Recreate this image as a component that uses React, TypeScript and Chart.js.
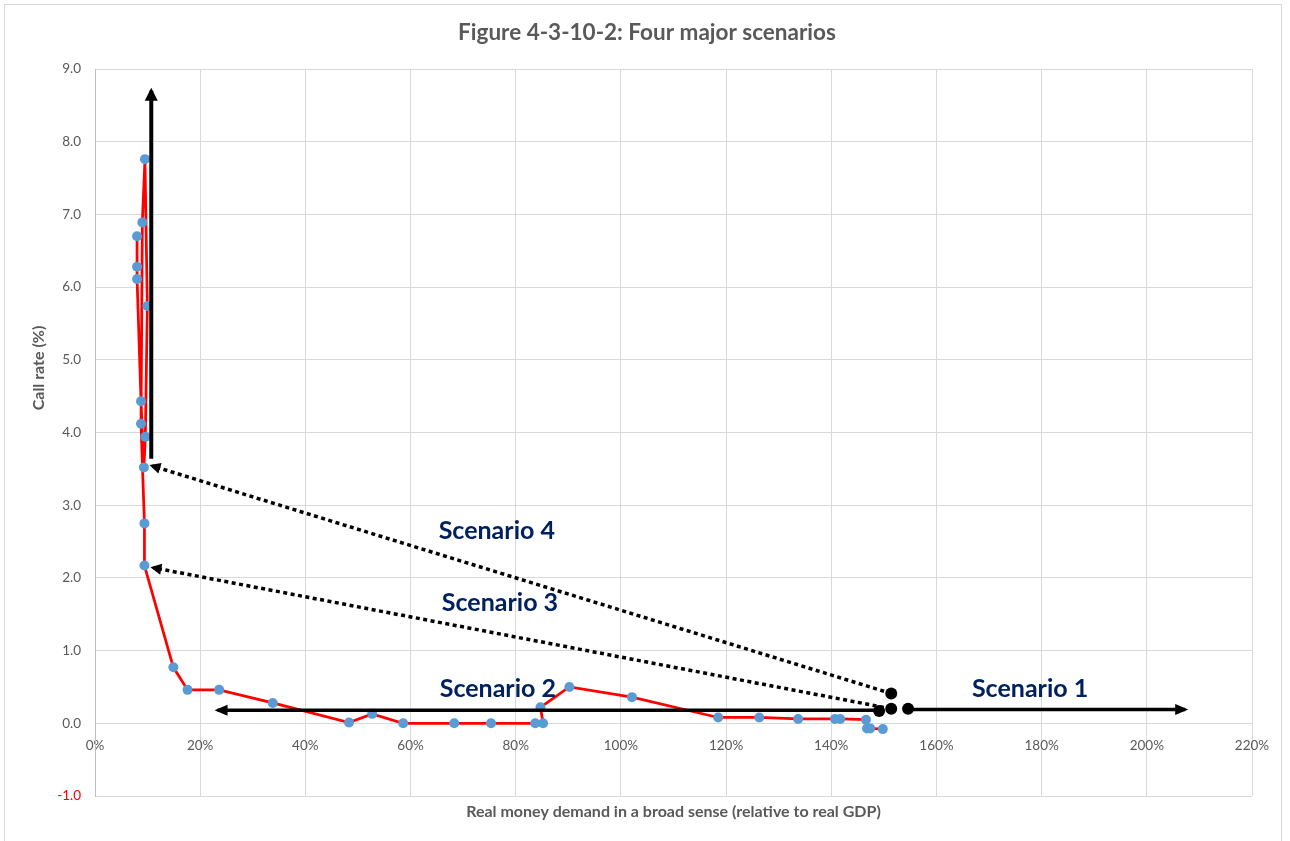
import React, { useEffect, useRef } from "react";
import { Chart, registerables } from "chart.js";

Chart.register(...registerables);

const FONT = "Lato, 'Open Sans', sans-serif";

const chartTitle = "Figure 4-3-10-2: Four major scenarios";
const xAxisTitle = "Real money demand in a broad sense (relative to real GDP)";
const yAxisTitle = "Call rate (%)";

// Observed path (x: % of real GDP, y: call rate %)
const moneyDemand = [
  8.0, 8.0, 8.0, 8.75, 9.3, 9.57, 9.95, 9.5, 9.0, 8.75,
  9.4, 9.4, 14.9, 17.6, 23.6, 33.8, 48.3, 52.7, 58.6, 68.3,
  75.3, 83.7, 85.2, 84.7, 90.2, 102.1, 118.5, 126.3, 133.7, 140.7,
  141.7, 146.6, 146.8, 147.4, 149.8,
];
const callRate = [
  6.7, 6.28, 6.11, 4.43, 3.52, 3.94, 5.74, 7.76, 6.89, 4.12,
  2.75, 2.17, 0.77, 0.46, 0.46, 0.28, 0.01, 0.13, 0.0, 0.0,
  0.0, 0.0, 0.0, 0.22, 0.5, 0.36, 0.08, 0.08, 0.06, 0.06,
  0.06, 0.05, -0.07, -0.07, -0.08,
];

// Scenario starting dots
const dotX = [149.1, 151.4, 154.6, 151.4];
const dotY = [0.17, 0.2, 0.2, 0.41];

// Scenario arrows (start -> tip)
const scenario1X = [154.6, 207.3];
const scenario1Y = [0.19, 0.19];
const scenario2X = [149.1, 23.3];
const scenario2Y = [0.18, 0.18];
const scenario3X = [151.4, 11.1];
const scenario3Y = [0.2, 2.14];
const scenario4X = [151.4, 10.9];
const scenario4Y = [0.41, 3.54];
const scenario4UpX = [10.7, 10.7];
const scenario4UpY = [3.64, 8.7];

// Scenario labels
const scenarioLabels = ["Scenario 1", "Scenario 2", "Scenario 3", "Scenario 4"];
const labelX = [177.8, 76.6, 77.0, 76.4];
const labelY = [0.47, 0.47, 1.66, 2.64];

const xTicksMin = 0;
const xTicksMax = 220;
const xTickStep = 20;
const yTicksMin = -1;
const yTicksMax = 9;
const yTickStep = 1;

const toPts = (xs: number[], ys: number[]) => xs.map((x, i) => ({ x, y: ys[i] }));

const arrowPlugin = {
  id: "arrowHeads",
  afterDatasetsDraw(chart: any) {
    const ctx = chart.ctx;
    chart.data.datasets.forEach((ds: any, i: number) => {
      if (!ds.arrowHead) return;
      const meta = chart.getDatasetMeta(i);
      const pts = meta.data;
      const n = pts.length;
      if (n < 2) return;
      const p1 = pts[n - 2];
      const p2 = pts[n - 1];
      const ang = Math.atan2(p2.y - p1.y, p2.x - p1.x);
      const c = Math.cos(ang);
      const s = Math.sin(ang);
      const len = ds.arrowHead.len;
      const half = ds.arrowHead.half;
      const tx = p2.x + c * 3;
      const ty = p2.y + s * 3;
      ctx.save();
      ctx.fillStyle = "#000000";
      ctx.beginPath();
      ctx.moveTo(tx, ty);
      ctx.lineTo(tx - len * c - half * s, ty - len * s + half * c);
      ctx.lineTo(tx - len * c + half * s, ty - len * s - half * c);
      ctx.closePath();
      ctx.fill();
      ctx.restore();
    });
  },
};

const textPlugin = {
  id: "texts",
  afterDraw(chart: any) {
    const { ctx, chartArea } = chart;
    const xs = chart.scales.x;
    const ys = chart.scales.y;
    ctx.save();
    ctx.fillStyle = "#595959";
    ctx.textAlign = "center";
    ctx.textBaseline = "middle";
    ctx.font = `bold 22.5px ${FONT}`;
    ctx.fillText(chartTitle, 647, 33);
    ctx.font = `bold 16px ${FONT}`;
    ctx.fillText(xAxisTitle, (chartArea.left + chartArea.right) / 2, 812);
    ctx.translate(39, 368);
    ctx.rotate(-Math.PI / 2);
    ctx.fillText(yAxisTitle, 0, 0);
    ctx.restore();

    ctx.save();
    ctx.fillStyle = "#002060";
    ctx.textAlign = "center";
    ctx.textBaseline = "middle";
    ctx.font = `bold 25px ${FONT}`;
    scenarioLabels.forEach((t, i) => {
      ctx.fillText(t, xs.getPixelForValue(labelX[i]), ys.getPixelForValue(labelY[i]));
    });
    ctx.restore();
  },
};

export default function App() {
  const ref = useRef<HTMLCanvasElement>(null);

  useEffect(() => {
    if (!ref.current) return;
    const solid = (xs: number[], ys: number[], width: number, head: any) => ({
      data: toPts(xs, ys),
      showLine: true,
      borderColor: "#000000",
      backgroundColor: "#000000",
      borderWidth: width,
      pointRadius: 0,
      borderCapStyle: "butt",
      arrowHead: head,
    });
    const dotted = (xs: number[], ys: number[]) => ({
      data: toPts(xs, ys),
      showLine: true,
      borderColor: "#000000",
      backgroundColor: "#000000",
      borderWidth: 3.5,
      borderDash: [4, 3.5],
      pointRadius: 0,
      borderCapStyle: "butt",
      arrowHead: { len: 11, half: 5.5 },
    });

    const chart = new Chart(ref.current, {
      type: "scatter",
      data: {
        datasets: [
          {
            data: toPts(dotX, dotY),
            pointRadius: 6,
            pointBackgroundColor: "#000000",
            pointBorderColor: "#000000",
            pointBorderWidth: 0,
            showLine: false,
          } as any,
          solid(scenario1X, scenario1Y, 3.5, { len: 13, half: 5.5 }),
          solid(scenario2X, scenario2Y, 3.5, { len: 13, half: 5.5 }),
          solid(scenario4UpX, scenario4UpY, 4, { len: 13, half: 6.5 }),
          dotted(scenario3X, scenario3Y),
          dotted(scenario4X, scenario4Y),
          {
            data: toPts(moneyDemand, callRate),
            showLine: true,
            borderColor: "#FF0000",
            borderWidth: 2.75,
            pointRadius: 5,
            pointBackgroundColor: "#5B9BD5",
            pointBorderColor: "#5B9BD5",
            pointBorderWidth: 0,
            tension: 0,
          } as any,
        ],
      },
      options: {
        animation: false,
        responsive: false,
        maintainAspectRatio: false,
        layout: { padding: { left: 0, top: 69, right: 38, bottom: 45 } },
        plugins: {
          legend: { display: false },
          tooltip: { enabled: false },
          title: { display: false },
        },
        scales: {
          x: {
            type: "linear",
            position: { y: 0 } as any,
            min: xTicksMin,
            max: xTicksMax,
            ticks: {
              stepSize: xTickStep,
              callback: (v: any) => `${v}%`,
              color: "#595959",
              font: { size: 13.5, family: FONT },
              padding: 14,
              maxRotation: 0,
            },
            grid: { color: "#d9d9d9", drawTicks: false, lineWidth: 1 },
            border: { color: "#d9d9d9", width: 1 },
          },
          y: {
            type: "linear",
            min: yTicksMin,
            max: yTicksMax,
            ticks: {
              stepSize: yTickStep,
              callback: (v: any) => Number(v).toFixed(1),
              color: (c: any) => (c.tick && c.tick.value === -1 ? "#FF0000" : "#595959"),
              font: { size: 13.5, family: FONT },
              padding: 14,
            },
            grid: { color: "#d9d9d9", drawTicks: false, lineWidth: 1 },
            border: { color: "#bfbfbf", width: 1 },
            afterFit: (s: any) => {
              s.width = 95;
            },
          },
        },
      } as any,
      plugins: [arrowPlugin, textPlugin],
    });
    return () => chart.destroy();
  }, []);

  return (
    <div
      style={{
        position: "fixed",
        left: 0,
        top: 0,
        width: 1290,
        height: 841,
        background: "#ffffff",
        overflow: "hidden",
      }}
    >
      <div
        style={{
          position: "absolute",
          left: 4,
          top: 4,
          width: 1278,
          height: 860,
          border: "1px solid #d9d9d9",
          boxSizing: "border-box",
        }}
      />
      <canvas
        ref={ref}
        width={1290}
        height={841}
        style={{ position: "absolute", left: 0, top: 0, width: 1290, height: 841 }}
      />
    </div>
  );
}
